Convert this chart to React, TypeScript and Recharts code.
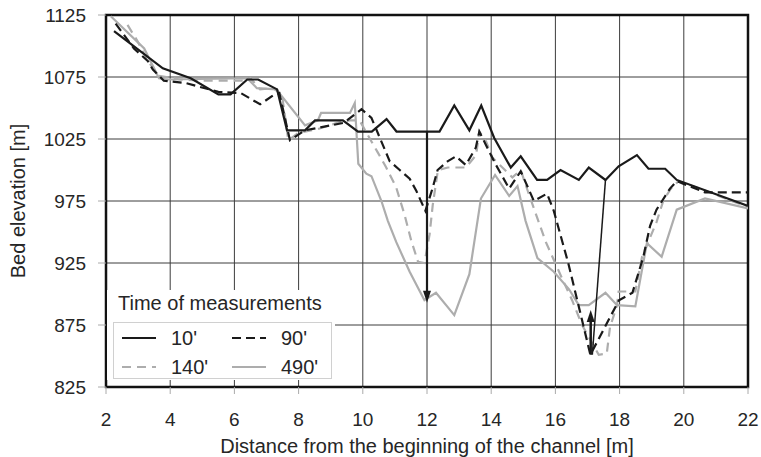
import React from 'react';
import {
  LineChart,
  Line,
  XAxis,
  YAxis,
  CartesianGrid,
  ReferenceArea,
  ReferenceLine,
  ReferenceDot,
} from 'recharts';

// Bed profile along the channel at four measurement times
const xTicks = [2, 4, 6, 8, 10, 12, 14, 16, 18, 20, 22];
const yTicks = [825, 875, 925, 975, 1025, 1075, 1125];

const dist10 = [2.25, 3.77, 4.64, 5.5, 5.88, 6.4, 6.74, 7.33, 7.64, 8.2, 8.51, 9.38, 9.85, 10.28, 10.74, 11.05, 12.39, 12.85, 13.32, 13.69, 14.09, 14.61, 14.92, 15.43, 15.74, 16.16, 16.73, 17.04, 17.56, 17.97, 18.54, 18.9, 19.42, 19.78, 22];
const elev10 = [1112, 1082, 1074, 1061, 1061, 1073, 1073, 1065, 1032, 1032, 1040, 1040, 1031, 1031, 1041, 1031, 1031, 1052, 1032, 1052, 1026, 1002, 1011, 992, 992, 1000, 992, 1002, 992, 1003, 1012, 1001, 1001, 992, 971];

const dist90 = [2.3, 2.87, 3.3, 3.46, 3.8, 4.5, 5.5, 6.2, 6.8, 7.2, 7.4, 7.73, 8.2, 8.8, 9.4, 9.96, 10.27, 10.53, 10.84, 11.15, 11.46, 11.67, 11.95, 12.17, 12.33, 12.64, 12.9, 13.21, 13.52, 13.63, 13.84, 14.15, 14.56, 14.92, 15.33, 15.74, 15.95, 16.4, 16.82, 17.09, 17.98, 18.4, 18.74, 18.95, 19.15, 19.57, 19.78, 20.66, 22];
const elev90 = [1118, 1098, 1088, 1081, 1072, 1070, 1063, 1062, 1053, 1060, 1062, 1024, 1032, 1035, 1038, 1049, 1042, 1026, 1007, 1000, 993, 983, 967, 985, 1000, 1007, 1011, 1004, 1018, 1031, 1020, 1004, 985, 999, 975, 981, 967, 925, 880, 851, 895, 901, 930, 955, 968, 985, 991, 982, 982];

const dist140 = [2.67, 2.98, 3.3, 3.65, 4.3, 5.0, 6.4, 6.5, 6.8, 7.2, 7.48, 7.68, 8.0, 8.6, 9.2, 9.6, 9.9, 10.27, 10.47, 10.73, 11.04, 11.3, 11.51, 11.72, 11.92, 12.08, 12.18, 12.34, 12.65, 13.21, 13.53, 13.63, 13.84, 14.04, 14.66, 14.92, 15.18, 15.44, 15.7, 16.2, 16.52, 16.83, 17.35, 17.6, 17.7, 17.92, 17.97, 18.49, 18.7, 19.15, 19.36, 19.57, 19.83, 20.5, 22];
const elev140 = [1117, 1104, 1088, 1076, 1073, 1072, 1072, 1074, 1065, 1066, 1061, 1024, 1030, 1033, 1038, 1040, 1040, 1023, 1014, 1002, 986, 964, 943, 926, 925, 948, 972, 1000, 1002, 1002, 1012, 1031, 1023, 1010, 994, 1000, 980, 961, 942, 913, 895, 875, 851, 852, 873, 891, 902, 902, 930, 958, 975, 984, 991, 985, 970];

const dist490 = [2.15, 3.19, 3.65, 3.9, 6.4, 6.7, 7.32, 7.37, 8.2, 8.6, 8.7, 9.6, 9.75, 9.86, 10.11, 10.27, 10.58, 10.78, 11.04, 11.46, 11.92, 12.28, 12.85, 13.32, 13.68, 14.12, 14.56, 14.82, 15.07, 15.44, 15.95, 16.42, 16.73, 17.04, 17.56, 17.92, 18.49, 18.85, 19.31, 19.78, 20.66, 22];
const elev490 = [1124, 1098, 1074, 1073, 1074, 1066, 1065, 1063, 1036, 1040, 1046, 1046, 1054, 1005, 997, 995, 975, 959, 942, 918, 895, 901, 883, 916, 977, 996, 979, 987, 959, 929, 918, 904, 891, 891, 901, 891, 890, 941, 930, 968, 977, 969];

const toPoints = (dist: number[], elev: number[]) =>
  dist.map((d, i) => ({ dist: d, elev: elev[i] }));

const BLACK = '#1a1a1a';
const GREY = '#adadad';

const series = [
  { name: "10'", data: toPoints(dist10, elev10), color: BLACK, dash: undefined as string | undefined, width: 2.2 },
  { name: "90'", data: toPoints(dist90, elev90), color: BLACK, dash: '9 5', width: 2.2 },
  { name: "140'", data: toPoints(dist140, elev140), color: GREY, dash: '9 6', width: 2.2 },
  { name: "490'", data: toPoints(dist490, elev490), color: GREY, dash: undefined as string | undefined, width: 2.2 },
];

// erosion arrows drawn on top of the profiles
const arrowSegments = [
  { x1: 12, y1: 1031, x2: 12, y2: 900, width: 2.2 },
  { x1: 17.56, y1: 992, x2: 17.15, y2: 851, width: 1.5 },
  { x1: 17.1, y1: 851, x2: 17.1, y2: 878, width: 2.5 },
];
const arrowHeads = [
  { x: 12, y: 893, dir: 'down' },
  { x: 17.1, y: 887, dir: 'up' },
];

const FONT = '"Liberation Sans", Arial, Helvetica, sans-serif';
const TEXT = '#262626';

const ArrowHead = (dir: string) => (props: any) => {
  const { cx, cy } = props;
  const s = dir === 'down' ? -1 : 1;
  return (
    <polygon
      points={`${cx - 4},${cy + s * 12} ${cx + 4},${cy + s * 12} ${cx},${cy}`}
      fill={BLACK}
    />
  );
};

const YTitle = (props: any) => {
  const vb = props.viewBox;
  const cx = vb.x + 18;
  const cy = vb.y + vb.height / 2;
  return (
    <text
      x={cx}
      y={cy}
      transform={`rotate(-90, ${cx}, ${cy})`}
      textAnchor="middle"
      dominantBaseline="central"
      fontSize={20}
      fill={TEXT}
      fontFamily={FONT}
    >
      Bed elevation [m]
    </text>
  );
};

const XTitle = (props: any) => {
  const vb = props.viewBox;
  return (
    <text
      x={vb.x + vb.width / 2}
      y={vb.y + 66}
      textAnchor="middle"
      fontSize={20}
      fill={TEXT}
      fontFamily={FONT}
    >
      Distance from the beginning of the channel [m]
    </text>
  );
};

const LegendSample = ({ color, dash }: { color: string; dash?: string }) => (
  <svg width={34} height={6} style={{ display: 'block' }}>
    <line x1={0} y1={3} x2={34} y2={3} stroke={color} strokeWidth={2} strokeDasharray={dash} />
  </svg>
);

const MeasurementLegend = () => (
  <div
    style={{
      position: 'absolute',
      left: 107,
      top: 290,
      width: 228,
      height: 90,
      background: '#fff',
      fontFamily: FONT,
      color: TEXT,
    }}
  >
    <div style={{ position: 'absolute', left: 11, top: 0, fontSize: 20, lineHeight: '26px', whiteSpace: 'nowrap' }}>
      Time of measurements
    </div>
    <div
      style={{
        position: 'absolute',
        left: 6,
        top: 32,
        width: 219,
        height: 57,
        border: '1px solid #d0d0d0',
        boxSizing: 'border-box',
      }}
    >
      {series.map((s, i) => (
        <div
          key={s.name}
          style={{
            position: 'absolute',
            left: i % 2 === 0 ? 8 : 118,
            top: i < 2 ? 3 : 32,
            display: 'flex',
            alignItems: 'center',
            height: 24,
            fontSize: 20,
          }}
        >
          <LegendSample color={s.color} dash={s.dash} />
          <span style={{ marginLeft: 15 }}>{s.name}</span>
        </div>
      ))}
    </div>
  </div>
);

export default function App() {
  return (
    <div style={{ position: 'absolute', left: 0, top: 0, width: 761, height: 457, background: '#fff' }}>
      <LineChart width={761} height={457} margin={{ top: 15, right: 13, left: 0, bottom: 0 }}>
        <CartesianGrid stroke="#3c3c3c" strokeWidth={1} />
        <XAxis
          dataKey="dist"
          type="number"
          domain={[2, 22]}
          ticks={xTicks}
          allowDataOverflow
          height={70}
          axisLine={false}
          tickLine={{ stroke: '#aaa' }}
          tickSize={7}
          tickMargin={19}
          tick={{ fontSize: 19, fill: TEXT, fontFamily: FONT }}
          label={<XTitle />}
        />
        <YAxis
          type="number"
          domain={[825, 1125]}
          ticks={yTicks}
          allowDataOverflow
          width={106}
          axisLine={false}
          tickLine={{ stroke: '#aaa' }}
          tickSize={8}
          tickMargin={12}
          tick={{ fontSize: 19, fill: TEXT, fontFamily: FONT }}
          label={<YTitle />}
        />
        {[series[3], series[2], series[1], series[0]].map((s) => (
          <Line
            key={s.name}
            data={s.data}
            dataKey="elev"
            name={s.name}
            type="linear"
            stroke={s.color}
            strokeWidth={s.width}
            strokeDasharray={s.dash}
            dot={false}
            activeDot={false}
            isAnimationActive={false}
          />
        ))}
        {arrowSegments.map((a, i) => (
          <ReferenceLine
            key={`seg${i}`}
            segment={[
              { x: a.x1, y: a.y1 },
              { x: a.x2, y: a.y2 },
            ]}
            stroke={BLACK}
            strokeWidth={a.width}
          />
        ))}
        {arrowHeads.map((h, i) => (
          <ReferenceDot key={`head${i}`} x={h.x} y={h.y} shape={ArrowHead(h.dir)} />
        ))}
        <ReferenceArea x1={2} x2={22} y1={825} y2={1125} fill="none" stroke="#111" strokeWidth={2.5} />
      </LineChart>
      <MeasurementLegend />
    </div>
  );
}
